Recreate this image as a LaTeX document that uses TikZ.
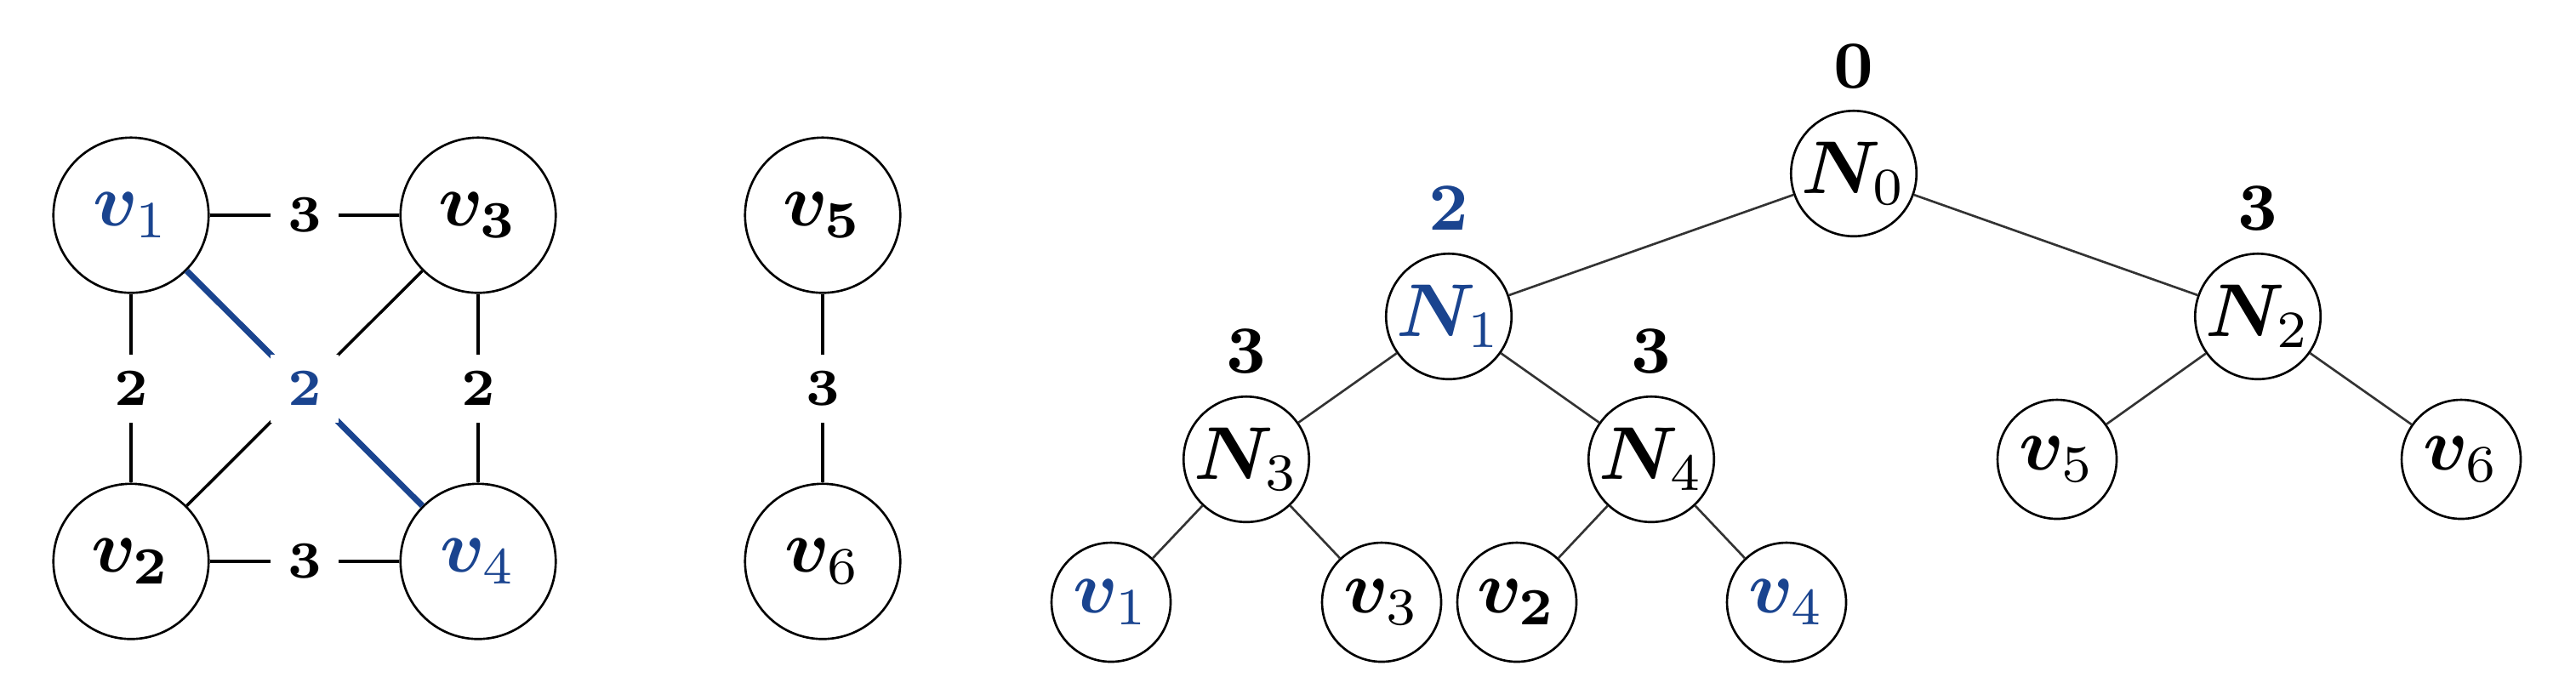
\documentclass[tikz,border=0pt]{standalone}
\usepackage{amsmath}
\usepackage{bm}
\usepackage{tikz}
\usetikzlibrary{positioning}
\definecolor{hlblue}{RGB}{26,68,143}
\tikzset{
  vnode/.style={shape=circle,draw=black,line width=0.3pt,minimum size=0.73cm,inner sep=0pt},
  tnode/.style={shape=circle,draw=black,line width=0.3pt,minimum size=0.59cm,inner sep=0pt},
  leaf/.style={tnode,minimum size=0.56cm},
  weight/.style={fill=white,inner sep=2.3pt,font=\fontsize{7}{8}\selectfont},
  cost/.style={inner sep=0pt,font=\small},
  edge/.style={draw=black,line width=0.4pt},
  chosen/.style={draw=hlblue,line width=0.8pt},
  branch/.style={draw=black!80,line width=0.3pt}
}
\begin{document}
\begin{tikzpicture}
    \useasboundingbox (0,0) rectangle (12.112,3.208);
    % graph
    \node[vnode] (v1) at (0.616,2.196) {$\color{hlblue}\bm{v}_1$};
    \node[vnode] (v3) at (2.248,2.196) {$\bm{v_3}$};
    \node[vnode] (v2) at (0.616,0.568) {$\bm{v_2}$};
    \node[vnode] (v4) at (2.248,0.568) {$\color{hlblue}\bm{v}_4$};
    \node[vnode] (v5) at (3.868,2.196) {$\bm{v_5}$};
    \node[vnode] (v6) at (3.868,0.568) {$\bm{v}_6$};
    \draw[edge] (v1) -- node[weight] (w13) {$\mathbf{3}$} (v3);
    \draw[edge] (v2) -- node[weight] (w24) {$\mathbf{3}$} (v4);
    \draw[edge] (v1) -- node[weight] (w12) {$\mathbf{2}$} (v2);
    \draw[edge] (v3) -- node[weight] (w34) {$\mathbf{2}$} (v4);
    \draw[edge] (v5) -- node[weight] (w56) {$\mathbf{3}$} (v6);
    \draw[edge] (v3) -- (v2);
    \draw[chosen] (v1) -- node[weight,text=hlblue] (w14) {$\mathbf{2}$} (v4);
    % tree
    \node[tnode] (N0) at (8.716,2.392) {$\bm{N}_0$};
    \node[tnode] (N1) at (6.812,1.72) {$\color{hlblue}\bm{N}_1$};
    \node[tnode] (N2) at (10.616,1.72) {$\bm{N}_2$};
    \node[tnode] (N3) at (5.86,1.048) {$\bm{N}_3$};
    \node[tnode] (N4) at (7.764,1.048) {$\bm{N}_4$};
    \node[leaf] (t5) at (9.672,1.048) {$\bm{v}_5$};
    \node[leaf] (t6) at (11.572,1.048) {$\bm{v}_6$};
    \node[leaf] (t1) at (5.224,0.376) {$\color{hlblue}\bm{v}_1$};
    \node[leaf] (t3) at (6.496,0.376) {$\bm{v}_3$};
    \node[leaf] (t2) at (7.132,0.376) {$\bm{v_2}$};
    \node[leaf] (t4) at (8.4,0.376) {$\color{hlblue}\bm{v}_4$};
    \node[cost] (c0) at ([yshift=0.505cm]N0) {$\mathbf{0}$};
    \node[cost,text=hlblue] (c1) at ([yshift=0.51cm]N1) {$\mathbf{2}$};
    \node[cost] (c2) at ([yshift=0.51cm]N2) {$\mathbf{3}$};
    \node[cost] (c3) at ([yshift=0.51cm]N3) {$\mathbf{3}$};
    \node[cost] (c4) at ([yshift=0.51cm]N4) {$\mathbf{3}$};
    \draw[branch] (N0) -- (N1);
    \draw[branch] (N0) -- (N2);
    \draw[branch] (N1) -- (N3);
    \draw[branch] (N1) -- (N4);
    \draw[branch] (N2) -- (t5);
    \draw[branch] (N2) -- (t6);
    \draw[branch] (N3) -- (t1);
    \draw[branch] (N3) -- (t3);
    \draw[branch] (N4) -- (t2);
    \draw[branch] (N4) -- (t4);
  \end{tikzpicture}
\end{document}
